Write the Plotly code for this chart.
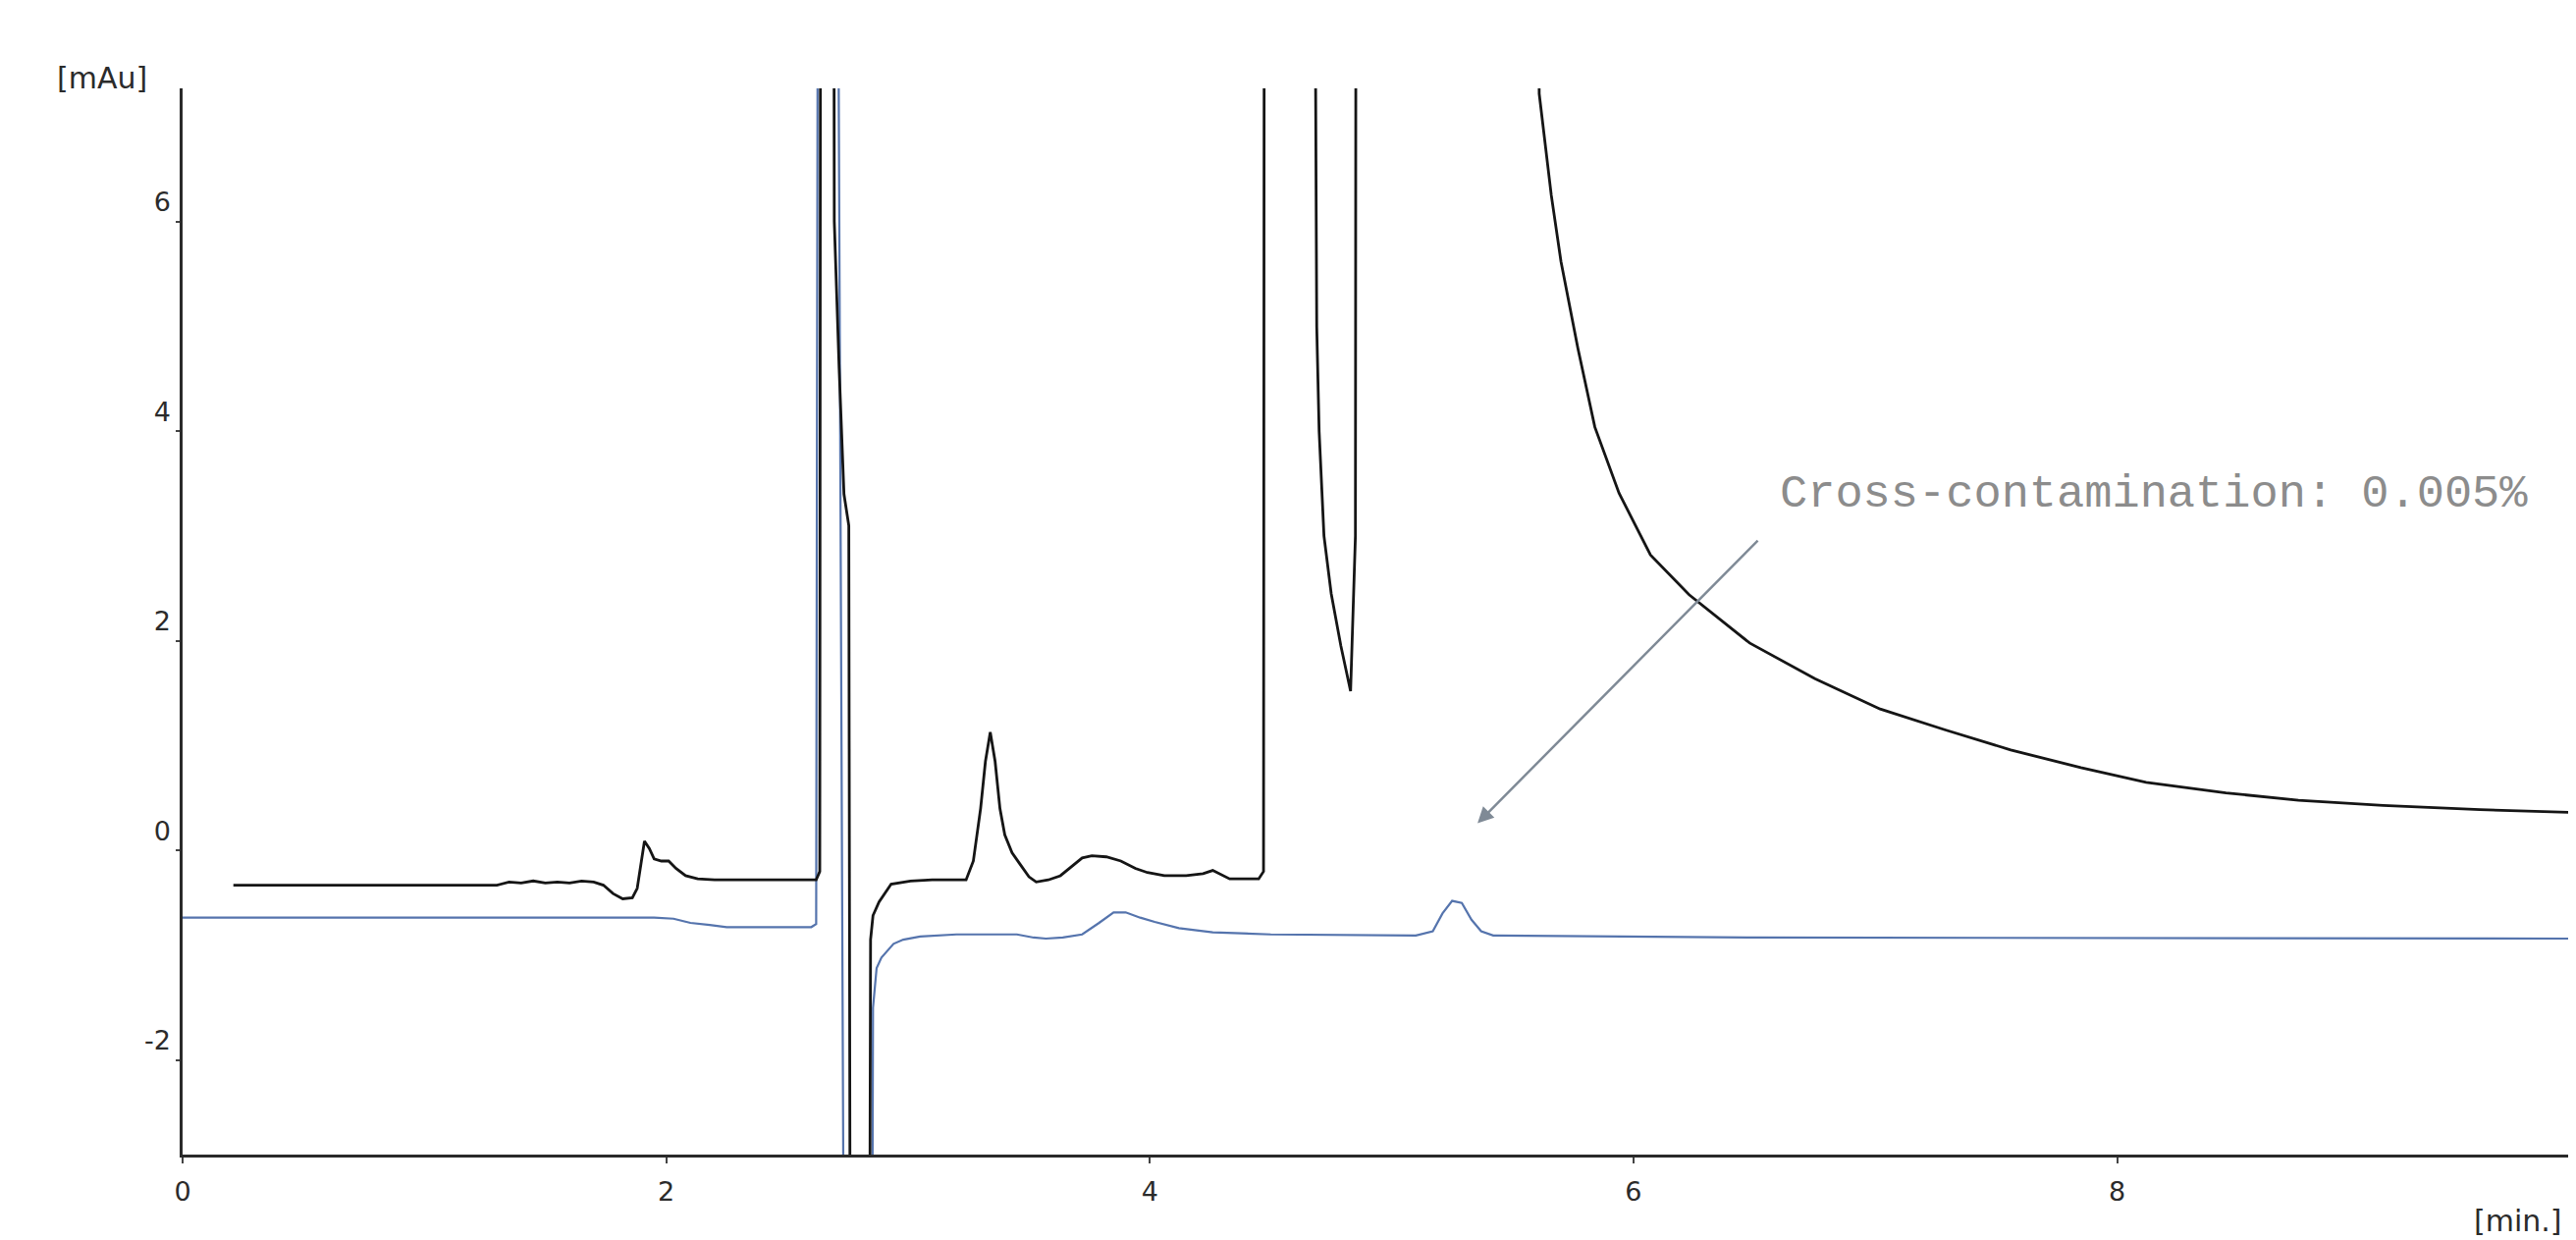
import plotly.graph_objects as go

# Sample injection (black) trace: retention time [min] and signal [mAu]
sample_time = [0.21, 1.30, 1.35, 1.40, 1.45, 1.50, 1.55, 1.60, 1.65, 1.70, 1.74, 1.78, 1.82, 1.86,
               1.88, 1.90, 1.91, 1.93, 1.95, 1.98, 2.01, 2.04, 2.08, 2.13, 2.20, 2.40, 2.62, 2.635,
               2.645, 2.68, 2.695, 2.715, 2.735, 2.755, 2.765, 2.835, 2.845, 2.855, 2.88, 2.93, 3.01,
               3.10, 3.24, 3.27, 3.30, 3.32, 3.34, 3.36, 3.38, 3.40, 3.43, 3.46, 3.50, 3.53, 3.58,
               3.63, 3.68, 3.72, 3.76, 3.82, 3.88, 3.94, 3.99, 4.06, 4.15, 4.22, 4.26, 4.30, 4.33,
               4.45, 4.47, 4.48, 4.675, 4.685, 4.69, 4.70, 4.72, 4.75, 4.79, 4.83, 4.85, 4.86,
               5.58, 5.61, 5.66, 5.70, 5.77, 5.84, 5.94, 6.07, 6.23, 6.48, 6.75, 7.02, 7.29,
               7.56, 7.85, 8.12, 8.45, 8.75, 9.10, 9.50, 9.93]
sample_signal = [-0.33, -0.33, -0.30, -0.31, -0.29, -0.31, -0.30, -0.31, -0.29, -0.30, -0.33, -0.41, -0.46, -0.45,
                 -0.36, -0.05, 0.09, 0.02, -0.08, -0.10, -0.10, -0.17, -0.24, -0.27, -0.28, -0.28, -0.28, -0.20,
                 30.0, 30.0, 6.0, 4.6, 3.4, 3.1, -10.0, -10.0, -0.85, -0.62, -0.49, -0.32, -0.29,
                 -0.28, -0.28, -0.10, 0.40, 0.85, 1.13, 0.85, 0.40, 0.15, -0.02, -0.12, -0.25, -0.30, -0.28,
                 -0.24, -0.15, -0.07, -0.05, -0.06, -0.10, -0.17, -0.21, -0.24, -0.24, -0.22, -0.19, -0.24, -0.27,
                 -0.27, -0.20, 30.0, 30.0, 7.5, 5.0, 4.0, 3.0, 2.45, 1.95, 1.52, 3.0, 30.0,
                 30.0, 7.22, 6.25, 5.62, 4.79, 4.04, 3.41, 2.82, 2.44, 1.98, 1.64, 1.35, 1.15,
                 0.96, 0.79, 0.65, 0.55, 0.48, 0.43, 0.39, 0.36]

# Blank / wash injection (blue) trace
blank_time = [0.00, 1.95, 2.03, 2.10, 2.18, 2.25, 2.60, 2.62, 2.635, 2.69, 2.745, 2.845, 2.855, 2.87,
              2.89, 2.94, 2.98, 3.05, 3.20, 3.45, 3.52, 3.57, 3.64, 3.72, 3.79, 3.85, 3.90, 3.96,
              4.02, 4.12, 4.26, 4.50, 5.10, 5.17, 5.21, 5.25, 5.29, 5.33, 5.37, 5.42, 6.50, 9.93]
blank_signal = [-0.64, -0.64, -0.65, -0.69, -0.71, -0.73, -0.73, -0.70, 20.0, 20.0, -10.0, -10.0, -1.5, -1.12,
                -1.02, -0.89, -0.85, -0.82, -0.80, -0.80, -0.83, -0.84, -0.83, -0.80, -0.69, -0.59, -0.59, -0.64,
                -0.68, -0.74, -0.78, -0.80, -0.81, -0.77, -0.60, -0.48, -0.50, -0.66, -0.77, -0.81, -0.83, -0.84]

x_ticks = [0, 2, 4, 6, 8]
y_ticks = [-2, 0, 2, 4, 6]
x_range = [0, 9.93]
y_range = [-2.9, 7.27]

annotation_text = "Cross-contamination: 0.005%"
annotation_pos = (8.15, 3.40)
arrow_tail = (6.52, 2.97)
arrow_head = (5.355, 0.26)

fig = go.Figure()
fig.add_trace(go.Scatter(x=blank_time, y=blank_signal, mode="lines",
                         line=dict(color="#5574ad", width=2.2), showlegend=False))
fig.add_trace(go.Scatter(x=sample_time, y=sample_signal, mode="lines",
                         line=dict(color="#151515", width=2.8), showlegend=False))

tick_font = dict(family="DejaVu Sans", size=27, color="#2b2b2b")
unit_font = dict(family="DejaVu Sans", size=30, color="#2b2b2b")

fig.update_xaxes(range=x_range, tickvals=x_ticks, ticktext=[str(v) for v in x_ticks],
                 showline=True, linecolor="#2a2a2a", linewidth=3, showgrid=False, zeroline=False,
                 ticks="outside", ticklen=6, tickwidth=2, tickcolor="#444444",
                 tickfont=tick_font, ticklabelstandoff=6)
fig.update_yaxes(range=y_range, tickvals=y_ticks, ticktext=[str(v) for v in y_ticks],
                 showline=True, linecolor="#2a2a2a", linewidth=2.5, showgrid=False, zeroline=False,
                 ticks="outside", ticklen=4, tickwidth=2, tickcolor="#444444",
                 tickfont=tick_font, ticklabelposition="outside top", ticklabelstandoff=4)

fig.add_annotation(x=annotation_pos[0], y=annotation_pos[1], xref="x", yref="y",
                   text=annotation_text, showarrow=False,
                   font=dict(family="Liberation Mono", size=47, color="#8c8c8c"))
fig.add_annotation(x=arrow_head[0], y=arrow_head[1], ax=arrow_tail[0], ay=arrow_tail[1],
                   xref="x", yref="y", axref="x", ayref="y", text="", showarrow=True,
                   arrowhead=2, arrowsize=1.3, arrowwidth=2.5, arrowcolor="#7f8a96")
fig.add_annotation(x=-0.0335, y=1.0101, xref="paper", yref="paper", text="[mAu]",
                   showarrow=False, font=unit_font, xanchor="center", yanchor="middle")
fig.add_annotation(x=0.992, y=-0.062, xref="paper", yref="paper", text="[min.]",
                   showarrow=False, font=unit_font, xanchor="right", yanchor="middle")

fig.update_layout(width=2624, height=1263, margin=dict(l=178, r=0, t=82, b=95),
                  plot_bgcolor="white", paper_bgcolor="white", showlegend=False)

fig.write_html("out.html")
